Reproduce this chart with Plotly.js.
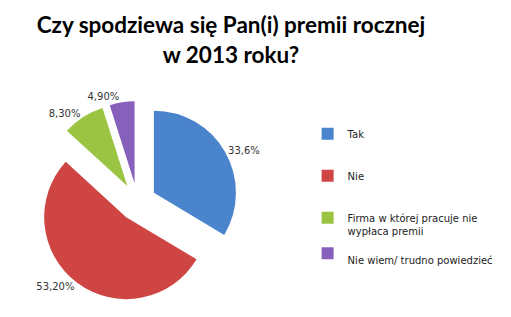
<!DOCTYPE html>
<html>
<head>
<meta charset="utf-8">
<script src="https://cdn.plot.ly/plotly-3.0.1.min.js"></script>
<style>
html,body{margin:0;padding:0;background:#fff;}
#chart{width:511px;height:317px;}
</style>
</head>
<body>
<div id="chart"></div>
<script>
// Data
var categories = ["Tak", "Nie", "Firma w której pracuje nie<br>wypłaca premii", "Nie wiem/ trudno powiedzieć"];
var shares = [33.6, 53.2, 8.3, 4.9];
var valueLabels = ["33,6%", "53,20%", "8,30%", "4,90%"];
var sliceColors = ["#4A84CC", "#CF4543", "#9CC443", "#8760BB"];

// legend spacing: pad entries with blank lines to mimic the original spacing
var legendPad = ["<br>", "<br>", "<br>", "<br>"];
var legendTail = ["<br>", "<br>", "", ""];
var legendLabels = categories.map(function (c, i) { return legendPad[i] + c + legendTail[i]; });

var trace = {
  type: "pie",
  labels: legendLabels,
  values: shares,
  text: valueLabels,
  textinfo: "text",
  textposition: "outside",
  textfont: {family: "DejaVu Sans", size: 10, color: "#333333"},
  sort: false,
  direction: "clockwise",
  rotation: 0,
  pull: [0.23, 0.23, 0.23, 0.23],
  marker: {colors: sliceColors, line: {width: 0}},
  hoverinfo: "none",
  domain: {x: [0.0716, 0.4665], y: [0.0445, 0.681]},
  automargin: false
};

var layout = {
  width: 511,
  height: 317,
  margin: {l: 0, r: 0, t: 0, b: 0},
  paper_bgcolor: "#ffffff",
  plot_bgcolor: "#ffffff",
  title: {
    text: "Czy spodziewa się Pan(i) premii rocznej<br>w 2013 roku?",
    font: {family: "Lato", size: 22.5, color: "#000000", weight: "bold"},
    x: 0.452,
    xanchor: "center",
    xref: "paper",
    y: 0.895,
    yanchor: "top",
    yref: "container"
  },
  showlegend: true,
  legend: {
    x: 0.602,
    xanchor: "left",
    y: 0.66,
    yanchor: "top",
    font: {family: "DejaVu Sans", size: 10, color: "#222222"},
    bgcolor: "rgba(0,0,0,0)",
    valign: "middle"
  }
};

Plotly.newPlot("chart", [trace], layout, {displayModeBar: false, staticPlot: true});
</script>
</body>
</html>
